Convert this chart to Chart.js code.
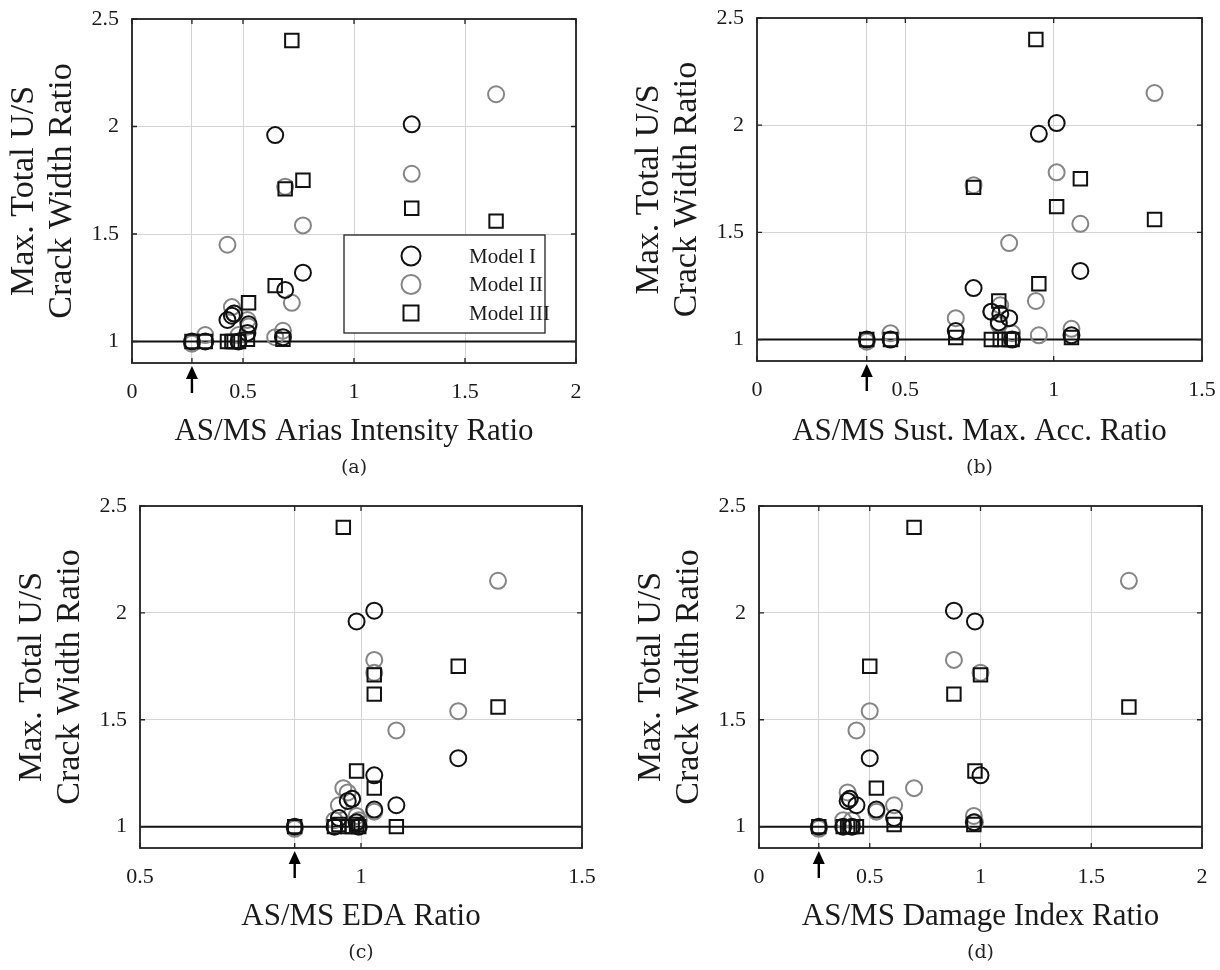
<!DOCTYPE html>
<html>
<head>
<meta charset="utf-8">
<title>AS/MS ratio vs crack width ratio</title>
<script src="https://cdn.jsdelivr.net/npm/chart.js@4.4.1/dist/chart.umd.min.js"></script>
<style>
  html, body { margin: 0; padding: 0; background: #fff; }
  #page { position: relative; width: 1220px; height: 970px; overflow: hidden; }
  canvas { position: absolute; }
</style>
</head>
<body>
<div id="page">
  <canvas id="chartA" width="600" height="485" style="left:0;top:0"></canvas>
  <canvas id="chartB" width="595" height="485" style="left:625px;top:0"></canvas>
  <canvas id="chartC" width="610" height="485" style="left:8px;top:485px"></canvas>
  <canvas id="chartD" width="593" height="485" style="left:627px;top:485px"></canvas>
</div>
<script>
// one entry per ground-motion pair, same order in every array
var model1Ratio = [2.01, null, null, 1.32, 1.24, 1.96, 1.10, 1.08, 1.00, 1.00, 1.02, 1.04, 1.12, 1.13, 1.00];
var model2Ratio = [1.78, 2.15, 1.18, 1.54, 1.72, 1.02, 1.45, 1.07, 0.99, 1.03, 1.05, 1.10, 1.16, 1.13, 1.03];
var model3Ratio = [1.62, 1.56, 2.40, 1.75, 1.71, 1.26, 1.00, 1.18, 1.00, 1.00, 1.01, 1.01, 1.00, 1.00, 1.00];

var ariasRatio   = [1.26, 1.64, 0.72, 0.77, 0.69, 0.645, 0.43, 0.525, 0.27, 0.33, 0.68, 0.52, 0.45, 0.46, 0.48];
var sustAccRatio = [1.01, 1.34, 0.94, 1.09, 0.73, 0.95, 0.85, 0.815, 0.37, 0.45, 1.06, 0.67, 0.82, 0.79, 0.86];
var edaRatio     = [1.03, 1.31, 0.96, 1.22, 1.03, 0.99, 1.08, 1.03, 0.85, 0.94, 0.99, 0.95, 0.97, 0.98, 0.995];
var damageRatio  = [0.88, 1.67, 0.70, 0.50, 1.00, 0.975, 0.44, 0.53, 0.27, 0.38, 0.97, 0.61, 0.40, 0.41, 0.42];

// the pair marked with an arrow under each x axis
var arrowIndex = 8;

var yTicks = [1, 1.5, 2, 2.5];
var modelLabels = ['Model I', 'Model II', 'Model III'];
var yTitle = ['Max. Total U/S', 'Crack Width Ratio'];

var serif = "'Liberation Serif', 'Times New Roman', serif";
var ink = '#1a1a1a';
var grayInk = '#858585';
var noInk = 'rgba(0,0,0,0)';

function toPoints(xs, ys) {
    return xs.map(function (x, i) {
        return ys[i] === null ? null : { x: x, y: ys[i] };
    }).filter(function (p) { return p !== null; });
}

var framePlugin = {
    id: 'frame',
    afterDraw: function (chart, args, opts) {
        var ctx = chart.ctx;
        var a = chart.chartArea;
        var xs = chart.scales.x;
        var ys = chart.scales.y;
        ctx.save();

        ctx.strokeStyle = '#222';
        ctx.lineWidth = 1.8;
        ctx.strokeRect(a.left, a.top, a.right - a.left, a.bottom - a.top);

        // MATLAB style inward ticks
        ctx.lineWidth = 1.3;
        ctx.beginPath();
        xs.ticks.forEach(function (t) {
            var px = xs.getPixelForValue(t.value);
            ctx.moveTo(px, a.bottom); ctx.lineTo(px, a.bottom - 5);
            ctx.moveTo(px, a.top); ctx.lineTo(px, a.top + 5);
        });
        ys.ticks.forEach(function (t) {
            var py = ys.getPixelForValue(t.value);
            ctx.moveTo(a.left, py); ctx.lineTo(a.left + 5, py);
            ctx.moveTo(a.right, py); ctx.lineTo(a.right - 5, py);
        });
        ctx.stroke();

        // arrow under the axis
        if (opts.arrowX !== undefined) {
            var ax = xs.getPixelForValue(opts.arrowX);
            ctx.strokeStyle = '#000';
            ctx.fillStyle = '#000';
            ctx.lineWidth = 2.4;
            ctx.beginPath();
            ctx.moveTo(ax, a.bottom + 30);
            ctx.lineTo(ax, a.bottom + 14);
            ctx.stroke();
            ctx.beginPath();
            ctx.moveTo(ax, a.bottom + 3);
            ctx.lineTo(ax - 6, a.bottom + 16);
            ctx.lineTo(ax + 6, a.bottom + 16);
            ctx.closePath();
            ctx.fill();
        }

        if (opts.legend) {
            var w = 201, h = 98;
            var left = a.right - 31 - w;
            var top = a.bottom - 30 - h;
            ctx.fillStyle = '#fff';
            ctx.fillRect(left, top, w, h);
            ctx.strokeStyle = '#222';
            ctx.lineWidth = 1.3;
            ctx.strokeRect(left, top, w, h);
            ctx.font = '21px ' + serif;
            ctx.textBaseline = 'middle';
            ctx.textAlign = 'left';
            chart.data.datasets.slice(0, 3).forEach(function (ds, i) {
                var cy = top + 21 + i * 28.5;
                var cx = left + 67;
                ctx.strokeStyle = ds.borderColor;
                ctx.lineWidth = ds.borderWidth;
                ctx.beginPath();
                if (ds.pointStyle === 'rect') {
                    ctx.rect(cx - 7.5, cy - 7.5, 15, 15);
                } else {
                    ctx.arc(cx, cy, 9.5, 0, Math.PI * 2);
                }
                ctx.stroke();
                ctx.fillStyle = ink;
                ctx.fillText(ds.label, left + 125, cy + 1);
            });
        }
        ctx.restore();
    }
};

function makeChart(canvasId, cfg) {
    var xs = cfg.xs;
    var arrowX = xs[arrowIndex];
    var xTicks = cfg.xTicks.concat([arrowX]).sort(function (p, q) { return p - q; });

    return new Chart(document.getElementById(canvasId), {
        type: 'scatter',
        data: {
            datasets: [{
                label: modelLabels[0],
                data: toPoints(xs, model1Ratio),
                pointStyle: 'circle',
                pointRadius: 8,
                borderColor: '#111',
                borderWidth: 2,
                backgroundColor: noInk,
                order: 1
            }, {
                label: modelLabels[1],
                data: toPoints(xs, model2Ratio),
                pointStyle: 'circle',
                pointRadius: 8,
                borderColor: grayInk,
                borderWidth: 2,
                backgroundColor: noInk,
                order: 2
            }, {
                label: modelLabels[2],
                data: toPoints(xs, model3Ratio),
                pointStyle: 'rect',
                pointRadius: 9.5,
                borderColor: '#111',
                borderWidth: 2,
                backgroundColor: noInk,
                order: 0
            }, {
                type: 'line',
                label: 'ratio = 1',
                data: [{ x: cfg.xMin, y: 1 }, { x: cfg.xMax, y: 1 }],
                borderColor: '#111',
                borderWidth: 2,
                pointRadius: 0,
                order: 3
            }]
        },
        options: {
            responsive: false,
            animation: false,
            events: [],
            layout: { padding: cfg.padding },
            plugins: {
                legend: { display: false },
                tooltip: { enabled: false },
                title: {
                    display: true,
                    position: 'bottom',
                    fullSize: false,
                    text: cfg.panel,
                    color: '#222',
                    font: { family: "'DejaVu Serif', serif", size: 19, weight: 'normal', lineHeight: 1.263 },
                    padding: { top: 0, bottom: 5 }
                },
                frame: { arrowX: arrowX, legend: !!cfg.legend }
            },
            scales: {
                x: {
                    type: 'linear',
                    min: cfg.xMin,
                    max: cfg.xMax,
                    afterBuildTicks: function (scale) {
                        scale.ticks = xTicks.map(function (v) { return { value: v }; });
                    },
                    afterFit: function (scale) { scale.height = cfg.xAxisHeight; },
                    ticks: {
                        autoSkip: false,
                        maxRotation: 0,
                        padding: 2,
                        color: ink,
                        font: { family: serif, size: 22 },
                        callback: function (v) { return v === arrowX ? '' : String(v); }
                    },
                    grid: { color: '#d4d4d4', lineWidth: 1, drawTicks: true, tickLength: 14, tickColor: noInk },
                    border: { display: false },
                    title: {
                        display: true,
                        text: cfg.xTitle,
                        color: ink,
                        font: { family: serif, size: 31, lineHeight: 1.15 },
                        padding: { top: 0, bottom: 6 }
                    }
                },
                y: {
                    type: 'linear',
                    min: 0.9,
                    max: 2.5,
                    afterBuildTicks: function (scale) {
                        scale.ticks = yTicks.map(function (v) { return { value: v }; });
                    },
                    afterFit: function (scale) { scale.width = 132; },
                    ticks: {
                        padding: 2,
                        color: ink,
                        font: { family: serif, size: 22 },
                        callback: function (v) { return String(v); }
                    },
                    grid: { color: '#d4d4d4', lineWidth: 1, drawTicks: true, tickLength: 11, tickColor: noInk },
                    border: { display: false },
                    title: {
                        display: true,
                        text: yTitle,
                        color: ink,
                        font: { family: serif, size: 34, lineHeight: 1.09 },
                        padding: { top: 6, bottom: 0 }
                    }
                }
            }
        },
        plugins: [framePlugin]
    });
}

makeChart('chartA', {
    xs: ariasRatio, xMin: 0, xMax: 2, xTicks: [0, 0.5, 1, 1.5, 2],
    xTitle: 'AS/MS Arias Intensity Ratio', panel: '(a)', legend: true,
    padding: { top: 19, right: 24, left: 0, bottom: 0 }, xAxisHeight: 93
});
makeChart('chartB', {
    xs: sustAccRatio, xMin: 0, xMax: 1.5, xTicks: [0, 0.5, 1, 1.5],
    xTitle: 'AS/MS Sust. Max. Acc. Ratio', panel: '(b)',
    padding: { top: 18, right: 18, left: 0, bottom: 0 }, xAxisHeight: 95
});
makeChart('chartC', {
    xs: edaRatio, xMin: 0.5, xMax: 1.5, xTicks: [0.5, 1, 1.5],
    xTitle: 'AS/MS EDA Ratio', panel: '(c)',
    padding: { top: 21, right: 36, left: 0, bottom: 0 }, xAxisHeight: 93
});
makeChart('chartD', {
    xs: damageRatio, xMin: 0, xMax: 2, xTicks: [0, 0.5, 1, 1.5, 2],
    xTitle: 'AS/MS Damage Index Ratio', panel: '(d)',
    padding: { top: 21, right: 18, left: 0, bottom: 0 }, xAxisHeight: 93
});
</script>
</body>
</html>
